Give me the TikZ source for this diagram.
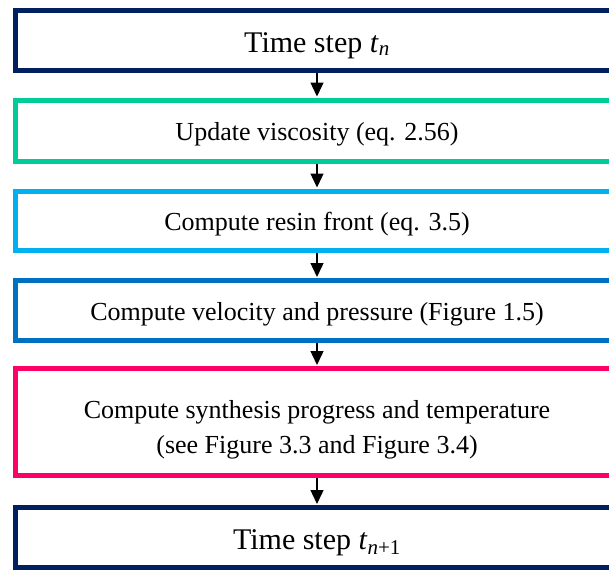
\documentclass[tikz,border=0pt]{standalone}
\usepackage{fontspec}
\setmainfont{Liberation Serif}
\usetikzlibrary{arrows.meta}
\definecolor{navy}{HTML}{002060}
\definecolor{teal}{HTML}{00CC99}
\definecolor{lblue}{HTML}{00B0F0}
\definecolor{mblue}{HTML}{0070C0}
\definecolor{pink}{HTML}{FF0066}
\begin{document}
\begin{tikzpicture}[x=1pt,y=-1pt,
  frame/.style={draw, line width=5pt, minimum width=604pt, inner sep=0pt},
  box/.style={frame, text height=20pt, text depth=0pt, font=\fontsize{26}{34}\selectfont},
  bigbox/.style={frame, text height=23pt, text depth=0pt, font=\fontsize{30}{34}\selectfont},
  conn/.style={line width=1.4pt, -{Triangle[length=14pt,width=13pt]}, shorten >=1pt}]
\useasboundingbox (0,0) rectangle (609,571);
\clip (0,0) rectangle (609,571);
\node[bigbox, color=navy, text=black, minimum height=60pt] (b1) at (317,40.5) {Time step \textit{t}\textsubscript{\textit{n}}};
\node[box, color=teal, text=black, minimum height=61pt] (b2) at (317,130.5) {Update viscosity (eq. 2.56)};
\node[box, color=lblue, text=black, minimum height=59pt] (b3) at (317,220.5) {Compute resin front (eq. 3.5)};
\node[box, color=mblue, text=black, minimum height=60pt] (b4) at (317,310.5) {Compute velocity and pressure (Figure 1.5)};
\node[frame, color=pink, minimum height=107pt,
  label={[text=black, align=center, yshift=-8pt, font=\fontsize{26}{35}\selectfont]center:Compute synthesis progress and temperature\\(see Figure 3.3 and Figure 3.4)}] (b5) at (317,422) {};
\node[bigbox, color=navy, text=black, minimum height=60pt] (b6) at (317,537.5) {Time step \textit{t}\textsubscript{\textit{n}+1}};
\draw[conn] (b1.south) -- (b2.north);
\draw[conn] (b2.south) -- (b3.north);
\draw[conn] (b3.south) -- (b4.north);
\draw[conn] (b4.south) -- (b5.north);
\draw[conn] (b5.south) -- (b6.north);
\end{tikzpicture}
\end{document}
